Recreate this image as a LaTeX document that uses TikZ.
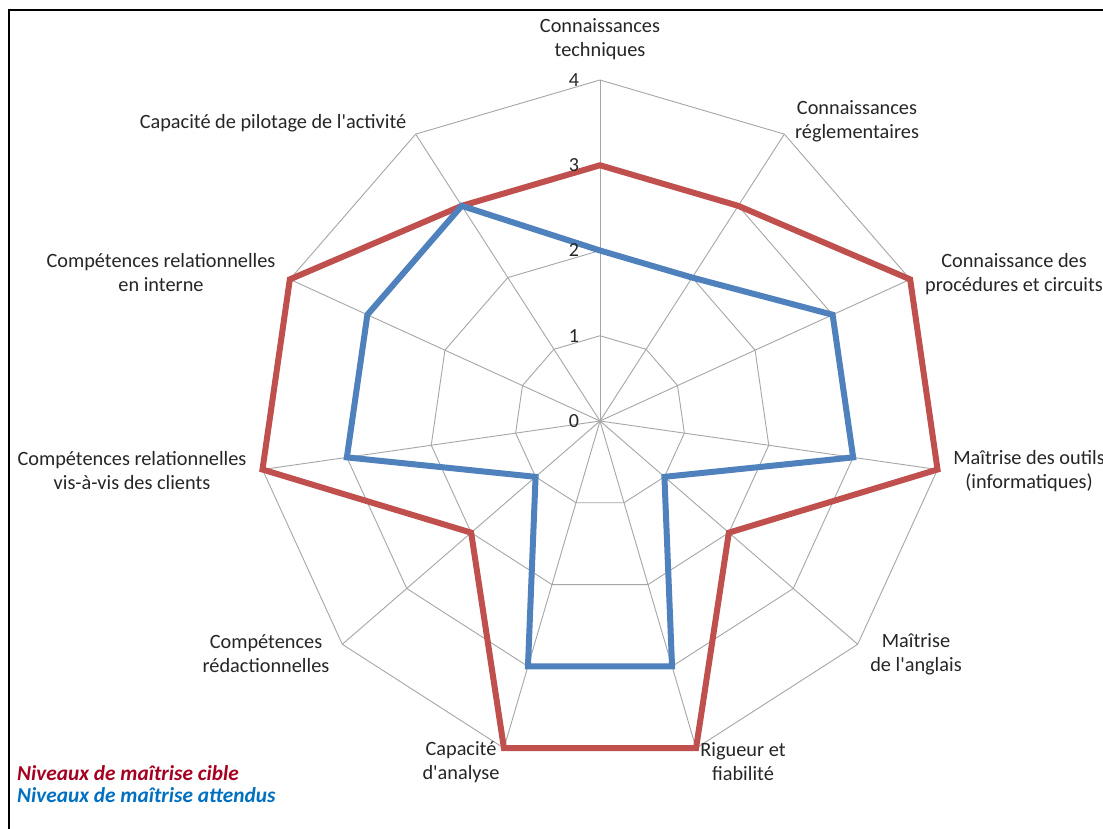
\documentclass[tikz,border=0pt]{standalone}
\usepackage{fontspec}
\setmainfont{Carlito}[Ligatures=TeXOff]
\definecolor{redc}{HTML}{C0504D}
\definecolor{bluec}{HTML}{4F81BD}
\definecolor{legred}{HTML}{A50021}
\definecolor{legblue}{HTML}{0070C0}
\definecolor{gridc}{HTML}{A6A6A6}
\begin{document}
\begin{tikzpicture}[x=1pt,y=-1pt,
  gridline/.style={draw=gridc, line width=0.9pt},
  lbl/.style={font=\fontsize{20.3}{24}\selectfont, align=center, text=black!85, inner sep=0pt, anchor=center},
  ticklbl/.style={font=\fontsize{20}{24}\selectfont, text=black!85, inner sep=0pt, anchor=center},
  legtext/.style={font=\fontsize{21.3}{22}\selectfont\bfseries\itshape, inner sep=0pt, anchor=west},
  seriered/.style={draw=redc, line width=6pt, line join=miter},
  seriesblue/.style={draw=bluec, line width=6pt, line join=miter}]
\useasboundingbox (0,0) rectangle (1103,829);
\fill[white] (0,0) rectangle (1103,829);
\draw[line width=2.5pt] (9,829) -- (9,10) -- (1103,10);
\def\u{85.25}
\begin{scope}[shift={(600,421)}]
  \coordinate (O) at (0,0);
  % grid polygons
  \foreach \l in {1,...,4} {
    \draw[gridline] (-90:\l*\u)
      \foreach \k in {1,...,10} { -- (\k*360/11-90:\l*\u) } -- cycle;
  }
  % spokes
  \foreach \k in {0,...,10} {
    \coordinate (ax\k) at (\k*360/11-90:4*\u);
    \draw[gridline] (O) -- (ax\k);
  }
  % red series
  \draw[seriered] (-90:3*\u)
    -- (1*360/11-90:3*\u) -- (2*360/11-90:4*\u) -- (3*360/11-90:4*\u)
    -- (4*360/11-90:2*\u) -- (5*360/11-90:4*\u) -- (6*360/11-90:4*\u)
    -- (7*360/11-90:2*\u) -- (8*360/11-90:4*\u) -- (9*360/11-90:4*\u)
    -- (10*360/11-90:3*\u) -- cycle;
  % blue series
  \draw[seriesblue] (-90:2*\u)
    -- (1*360/11-90:2*\u) -- (2*360/11-90:3*\u) -- (3*360/11-90:3*\u)
    -- (4*360/11-90:1*\u) -- (5*360/11-90:3*\u) -- (6*360/11-90:3*\u)
    -- (7*360/11-90:1*\u) -- (8*360/11-90:3*\u) -- (9*360/11-90:3*\u)
    -- (10*360/11-90:3*\u) -- cycle;
\end{scope}
% tick labels
\foreach \t in {0,...,4} {
  \node[ticklbl] (tick\t) at (574, 421-\t*\u) {\t};
}
% axis labels
\node[lbl] (Ltech) at (600,39) {Connaissances\\techniques};
\node[lbl] (Lregl) at (857,121) {Connaissances\\réglementaires};
\node[lbl] (Lproc) at (1014,274) {Connaissance des\\procédures et circuits};
\node[lbl] (Lout) at (1029,471) {Maîtrise des outils\\(informatiques)};
\node[lbl] (Lang) at (916,654) {Maîtrise\\de l'anglais};
\node[lbl] (Lrig) at (743,762) {Rigueur et\\fiabilité};
\node[lbl] (Lana) at (461,762) {Capacité\\d'analyse};
\node[lbl] (Lred) at (266,654) {Compétences\\rédactionnelles};
\node[lbl] (Lcli) at (132,471) {Compétences relationnelles\\vis-à-vis des clients};
\node[lbl] (Lint) at (161,273) {Compétences relationnelles\\en interne};
\node[lbl] (Lpil) at (273,123) {Capacité de pilotage de l'activité};
% legend
\node[legtext, text=legred] (leg1) at (17,773) {Niveaux de maîtrise cible};
\node[legtext, text=legblue] (leg2) at (17,795) {Niveaux de maîtrise attendus};
\end{tikzpicture}
\end{document}
